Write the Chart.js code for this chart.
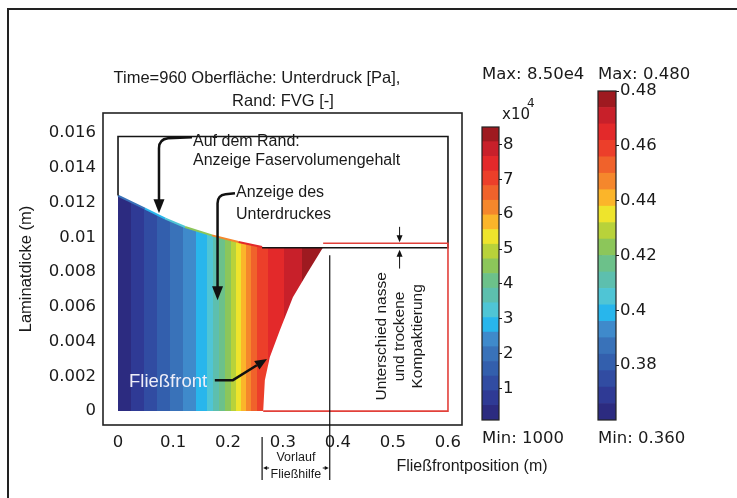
<!DOCTYPE html>
<html>
<head>
<meta charset="utf-8">
<title>Fließfront Unterdruck / FVG</title>
<script src="https://cdn.jsdelivr.net/npm/chart.js@4.4.1/dist/chart.umd.min.js"></script>
<style>
  html, body { margin: 0; padding: 0; background: #fff; }
  #wrap { position: relative; width: 737px; height: 498px; overflow: hidden; }
  #rahmen { position: absolute; left: 7px; top: 8px; right: -10px; bottom: -10px;
            border-top: 2.5px solid #222; border-left: 2px solid #222; }
  canvas { position: absolute; }
</style>
</head>
<body>
<div id="wrap">
  <div id="rahmen"></div>
  <canvas id="haupt" width="737" height="498" style="left:0;top:0"></canvas>
  <canvas id="skalaDruck" width="118" height="400" style="left:470px;top:60px"></canvas>
  <canvas id="skalaFvg" width="115" height="400" style="left:585px;top:60px"></canvas>
</div>
<script>
// Achsen
const xTicks = [0, 0.1, 0.2, 0.3, 0.4, 0.5, 0.6];
const yTicks = [0, 0.002, 0.004, 0.006, 0.008, 0.01, 0.012, 0.014, 0.016];

// Laminatoberkante im getränkten Bereich (m)
const oberkanteX = [0, 0.049, 0.086, 0.122, 0.171, 0.219, 0.262];
const oberkanteY = [0.0124, 0.01165, 0.01107, 0.01059, 0.01011, 0.00973, 0.00944];
// FVG entlang der Oberkante
const fvgOben = [0.385, 0.400, 0.404, 0.425, 0.445, 0.462, 0.470];

// Fließfront, von oben nach unten
const frontX = [0.373, 0.344, 0.318, 0.2945, 0.276, 0.267, 0.264];
const frontY = [0.00943, 0.00793, 0.00655, 0.00466, 0.0031, 0.00178, 0];

// Grenzen der Unterdruck-Farbbänder in Fließrichtung (m)
const druckBandX = [0, 0.024, 0.047, 0.071, 0.095, 0.118, 0.142, 0.162, 0.173, 0.184, 0.195,
                    0.205, 0.215, 0.224, 0.233, 0.242, 0.253, 0.273, 0.302, 0.335, 0.376];

// Geometrie: Vakuumaufbau (schwarz) und trockener Bereich (rot)
const aufbauX = [0, 0, 0.6, 0.6, 0.262];
const aufbauY = [0.0124, 0.0158, 0.0158, 0.0094, 0.0094];
const trockenX = [0.373, 0.6, 0.6, 0.264];
const trockenY = [0.00966, 0.00966, 0, 0];

// Farbskalen
const druckStufen = [1000, 5200, 9400, 13600, 17800, 22000, 26200, 30400, 34600, 38800, 43000,
                     47200, 51400, 55600, 59800, 64000, 68200, 72400, 76600, 80800, 85000];
const druckTicks = [10000, 20000, 30000, 40000, 50000, 60000, 70000, 80000];
const fvgStufen = [0.360, 0.366, 0.372, 0.378, 0.384, 0.390, 0.396, 0.402, 0.408, 0.414, 0.420,
                   0.426, 0.432, 0.438, 0.444, 0.450, 0.456, 0.462, 0.468, 0.474, 0.480];
const fvgTicks = [0.38, 0.40, 0.42, 0.44, 0.46, 0.48];

const bandFarben = ['#2c2b80', '#2f3a95', '#314ca2', '#335fad', '#3972b9', '#3f8acb', '#28b6ec',
                    '#4fc5d5', '#5dbfae', '#6cc18a', '#8cc65a', '#b8d23a', '#eee42c', '#fbb52a',
                    '#f5872c', '#f0622b', '#ec3f2a', '#e3292a', '#c8202a', '#9e1a20'];

const TEXT = '#1a1a1a';
const VERD = '"DejaVu Sans", Verdana, sans-serif';
const ARIAL = '"Liberation Sans", Arial, sans-serif';

function fvgFarbe(v) {
  let i = 0;
  while (i < 19 && v >= fvgStufen[i + 1]) i++;
  return bandFarben[i];
}

const pts = (xs, ys) => xs.map((x, i) => ({ x, y: ys[i] }));

// Umriss des getränkten Bereichs
const gebiet = [
  ...pts(oberkanteX, oberkanteY),
  ...pts(frontX, frontY),
  { x: 0, y: 0 }
];

function druckVerlauf(c) {
  const chart = c.chart;
  const sx = chart.scales.x;
  if (!chart.chartArea || !sx) return bandFarben[0];
  const x0 = sx.getPixelForValue(druckBandX[0]);
  const x1 = sx.getPixelForValue(druckBandX[druckBandX.length - 1]);
  const g = chart.ctx.createLinearGradient(x0, 0, x1, 0);
  for (let i = 0; i < bandFarben.length; i++) {
    const a = (sx.getPixelForValue(druckBandX[i]) - x0) / (x1 - x0);
    const b = (sx.getPixelForValue(druckBandX[i + 1]) - x0) / (x1 - x0);
    g.addColorStop(Math.min(1, Math.max(0, a)), bandFarben[i]);
    g.addColorStop(Math.min(1, Math.max(0, b)), bandFarben[i]);
  }
  return g;
}

function spitze(ctx, fx, fy, tx, ty, len, breite) {
  const w = Math.atan2(ty - fy, tx - fx);
  const bx = tx - len * Math.cos(w), by = ty - len * Math.sin(w);
  ctx.beginPath();
  ctx.moveTo(tx, ty);
  ctx.lineTo(bx + breite / 2 * Math.sin(w), by - breite / 2 * Math.cos(w));
  ctx.lineTo(bx - breite / 2 * Math.sin(w), by + breite / 2 * Math.cos(w));
  ctx.closePath();
  ctx.fill();
}

const beschriftung = {
  id: 'beschriftung',
  afterDraw(chart) {
    const { ctx, chartArea: a, scales: { x, y } } = chart;
    const X = v => x.getPixelForValue(v);
    const Y = v => y.getPixelForValue(v);
    ctx.save();

    ctx.strokeStyle = '#222';
    ctx.lineWidth = 1.6;
    ctx.strokeRect(a.left, a.top, a.right - a.left, a.bottom - a.top);

    ctx.fillStyle = TEXT;
    ctx.textBaseline = 'middle';
    ctx.textAlign = 'center';
    ctx.font = '16.5px ' + ARIAL;
    ctx.fillText('Time=960 Oberfläche: Unterdruck [Pa],', 257, a.top - 35);
    ctx.fillText('Rand: FVG [-]', 283, a.top - 12);

    ctx.font = '16px ' + ARIAL;
    ctx.fillText('Fließfrontposition (m)', a.right + 10, a.bottom + 42);

    // Hinweise im Diagramm
    ctx.textAlign = 'left';
    ctx.fillText('Auf dem Rand:', X(0.1364), Y(0.01552));
    ctx.fillText('Anzeige Faservolumengehalt', X(0.1364), Y(0.01443));
    ctx.fillText('Anzeige des', X(0.2145), Y(0.01259));
    ctx.fillText('Unterdruckes', X(0.2145), Y(0.01132));

    ctx.fillStyle = '#eeeef8';
    ctx.font = '18.5px ' + ARIAL;
    ctx.fillText('Fließfront', X(0.02), Y(0.00167));

    ctx.strokeStyle = '#111';
    ctx.fillStyle = '#111';
    ctx.lineWidth = 2.5;
    ctx.lineJoin = 'round';

    // Pfeil zum Rand
    let sx = X(0.1345), sy = Y(0.01575), cx = X(0.0745), ty = Y(0.01138);
    ctx.beginPath();
    ctx.moveTo(sx, sy);
    ctx.lineTo(cx + 9, sy + 1);
    ctx.quadraticCurveTo(cx, sy + 2, cx, sy + 11);
    ctx.lineTo(cx, ty - 11);
    ctx.stroke();
    spitze(ctx, cx, ty - 20, cx, ty, 14, 11);

    // Pfeil zum Druckfeld
    sx = X(0.2127); sy = Y(0.01253); cx = X(0.181); ty = Y(0.00638);
    ctx.beginPath();
    ctx.moveTo(sx, sy);
    ctx.lineTo(cx + 8, sy + 1);
    ctx.quadraticCurveTo(cx, sy + 2, cx, sy + 10);
    ctx.lineTo(cx, ty - 11);
    ctx.stroke();
    spitze(ctx, cx, ty - 20, cx, ty, 14, 11);

    // Pfeil zur Fließfront
    const kx = X(0.209), ky = Y(0.00178), tx = X(0.271), tyf = Y(0.003);
    ctx.beginPath();
    ctx.moveTo(X(0.176), ky);
    ctx.lineTo(kx, ky);
    ctx.lineTo(tx - (tx - kx) * 0.3, tyf - (tyf - ky) * 0.3);
    ctx.stroke();
    spitze(ctx, kx, ky, tx, tyf, 12, 10);

    // Bemaßung nasse / trockene Dicke
    ctx.lineWidth = 1;
    const dx = X(0.512);
    ctx.beginPath();
    ctx.moveTo(dx, Y(0.0106));
    ctx.lineTo(dx, Y(0.00966) - 5);
    ctx.moveTo(dx, Y(0.0082));
    ctx.lineTo(dx, Y(0.0094) + 6);
    ctx.stroke();
    spitze(ctx, dx, Y(0.0106), dx, Y(0.00966) - 1, 7, 6);
    spitze(ctx, dx, Y(0.0082), dx, Y(0.0094) + 2, 7, 6);

    ctx.save();
    ctx.translate(X(0.5127), Y(0.0043));
    ctx.rotate(-Math.PI / 2);
    ctx.textAlign = 'center';
    ctx.fillStyle = TEXT;
    ctx.font = '15.5px ' + ARIAL;
    ctx.fillText('Unterschied nasse', 0, -18);
    ctx.fillText('und trockene', 0, 0);
    ctx.fillText('Kompaktierung', 0, 18);
    ctx.restore();

    // Vorlauf der Fließhilfe
    const lx = X(0.262), vx = X(0.385);
    ctx.lineWidth = 1.2;
    ctx.beginPath();
    ctx.moveTo(vx, Y(0.00897));
    ctx.lineTo(vx, a.bottom + 55);
    ctx.moveTo(lx, a.bottom + 12);
    ctx.lineTo(lx, a.bottom + 55);
    ctx.moveTo(lx + 3, a.bottom + 43);
    ctx.lineTo(lx + 7, a.bottom + 43);
    ctx.moveTo(vx - 3, a.bottom + 43);
    ctx.lineTo(vx - 7, a.bottom + 43);
    ctx.stroke();
    spitze(ctx, lx + 7, a.bottom + 43, lx + 1, a.bottom + 43, 4, 4);
    spitze(ctx, vx - 7, a.bottom + 43, vx - 1, a.bottom + 43, 4, 4);

    ctx.fillStyle = TEXT;
    ctx.textAlign = 'center';
    ctx.font = '12.5px ' + ARIAL;
    ctx.fillText('Vorlauf', (lx + vx) / 2, a.bottom + 33);
    ctx.fillText('Fließhilfe', (lx + vx) / 2, a.bottom + 50);

    ctx.restore();
  }
};

Chart.defaults.font.family = VERD;
Chart.defaults.color = TEXT;

new Chart(document.getElementById('haupt'), {
  type: 'scatter',
  data: {
    datasets: [
      {
        data: pts(trockenX, trockenY), showLine: true, borderColor: '#e2403a',
        borderWidth: 1.6, pointRadius: 0, order: 1
      },
      {
        data: pts(aufbauX, aufbauY), showLine: true, borderColor: '#151515',
        borderWidth: 1.6, pointRadius: 0, order: 2
      },
      {
        data: pts(oberkanteX, oberkanteY), showLine: true, borderWidth: 2, pointRadius: 0, order: 3,
        segment: { borderColor: c => fvgFarbe(fvgOben[c.p0DataIndex]) }
      },
      {
        data: gebiet, showLine: true, fill: 'shape', borderWidth: 0, pointRadius: 0, order: 10,
        backgroundColor: druckVerlauf
      }
    ]
  },
  options: {
    responsive: false,
    animation: false,
    events: [],
    layout: { padding: { left: 0, top: 113, right: 275, bottom: 0 } },
    plugins: { legend: { display: false }, tooltip: { enabled: false } },
    scales: {
      x: {
        type: 'linear', min: -0.0273, max: 0.6255,
        grid: { display: false, drawTicks: false }, border: { display: false },
        afterBuildTicks: s => { s.ticks = xTicks.map(v => ({ value: v })); },
        afterFit: s => { s.height = 73; },
        ticks: { autoSkip: false, maxRotation: 0, padding: 8, color: TEXT,
                 font: { family: VERD, size: 16.5 }, callback: v => String(+v.toFixed(1)) }
      },
      y: {
        type: 'linear', min: -0.0008, max: 0.01715,
        grid: { display: false, drawTicks: false }, border: { display: false },
        afterBuildTicks: s => { s.ticks = yTicks.map(v => ({ value: v })); },
        afterFit: s => { s.width = 103; },
        ticks: { autoSkip: false, padding: 7, color: TEXT,
                 font: { family: VERD, size: 16.5 }, callback: v => String(+v.toFixed(3)) },
        title: { display: true, text: 'Laminatdicke (m)', color: TEXT,
                 font: { family: ARIAL, size: 16.5 }, padding: { top: 17 } }
      }
    }
  },
  plugins: [beschriftung]
});

// Farbskalen rechts neben dem Diagramm
function farbskala(id, stufen, ticks, tickText, pad, texte) {
  return new Chart(document.getElementById(id), {
    type: 'bar',
    data: {
      labels: [''],
      datasets: bandFarben.map((f, i) => ({
        data: [[stufen[i], stufen[i + 1]]], backgroundColor: f, borderWidth: 0,
        grouped: false, barPercentage: 1, categoryPercentage: 1
      }))
    },
    options: {
      responsive: false,
      animation: false,
      events: [],
      layout: { padding: pad },
      plugins: { legend: { display: false }, tooltip: { enabled: false } },
      scales: {
        x: { display: false },
        y: {
          position: 'right', min: stufen[0], max: stufen[stufen.length - 1],
          afterBuildTicks: s => { s.ticks = ticks.map(v => ({ value: v })); },
          afterFit: s => { s.width = 40; },
          grid: { color: '#1a1a1a', lineWidth: 1, tickLength: 3 },
          border: { display: false, dash: [4, 10] },
          ticks: { autoSkip: false, padding: 1, color: TEXT,
                   font: { family: VERD, size: 16.5 }, callback: tickText }
        }
      }
    },
    plugins: [{
      id: 'skalaRahmen',
      afterDraw(chart) {
        const { ctx, chartArea: a } = chart;
        ctx.save();
        ctx.strokeStyle = '#222';
        ctx.lineWidth = 1.2;
        ctx.strokeRect(a.left, a.top, a.right - a.left, a.bottom - a.top);
        ctx.fillStyle = TEXT;
        ctx.textBaseline = 'middle';
        ctx.textAlign = 'left';
        texte.forEach(t => {
          ctx.font = t.size + 'px ' + VERD;
          ctx.fillText(t.text, t.x, t.y);
        });
        ctx.restore();
      }
    }]
  });
}

farbskala('skalaDruck', druckStufen, druckTicks, v => String(v / 10000),
  { left: 12, top: 67, right: 49, bottom: 40 },
  [
    { text: 'Max: 8.50e4', x: 12, y: 15, size: 16.5 },
    { text: 'x10', x: 32, y: 55, size: 15 },
    { text: '4', x: 57, y: 44, size: 12 },
    { text: 'Min: 1000', x: 12, y: 379, size: 16.5 }
  ]);

farbskala('skalaFvg', fvgStufen, fvgTicks, v => String(+v.toFixed(2)),
  { left: 13, top: 31, right: 44, bottom: 40 },
  [
    { text: 'Max: 0.480', x: 13, y: 15, size: 16.5 },
    { text: 'Min: 0.360', x: 13, y: 379, size: 16.5 }
  ]);
</script>
</body>
</html>
